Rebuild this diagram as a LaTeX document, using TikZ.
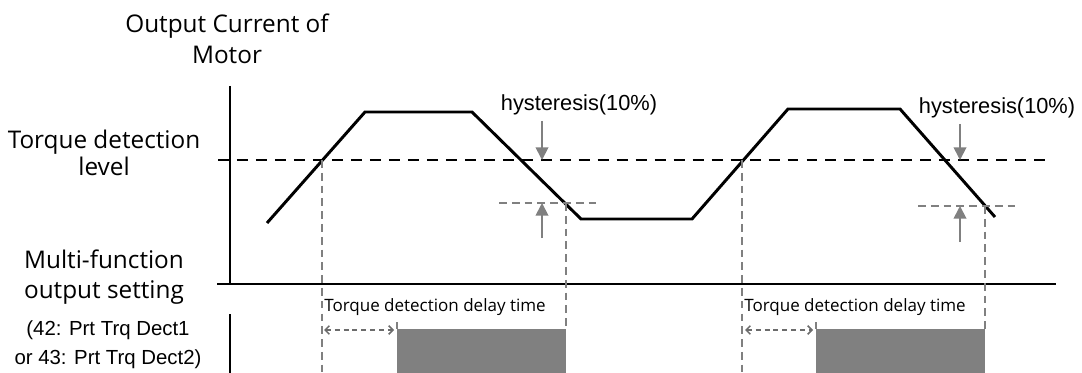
\documentclass[tikz,border=0pt]{standalone}
\usepackage{fontspec}
\setmainfont{Open Sans}
\newfontfamily\arialfont{Liberation Sans}
\usepackage{tikz}
\usetikzlibrary{arrows.meta, positioning, calc}

\begin{document}
\begin{tikzpicture}[
  x=0.025cm, y=-0.025cm,
  lbl/.style={align=center, inner sep=0pt, font=\fontsize{17.3}{21}\selectfont},
  note/.style={align=center, inner sep=0pt, font=\arialfont\fontsize{14.5}{20.6}\selectfont},
  small/.style={inner sep=0pt, font=\fontsize{12.1}{14}\selectfont},
  axis/.style={line width=1pt},
  curve/.style={line width=2.1pt, line join=miter},
  level/.style={line width=1pt, dash pattern=on 7.8pt off 5.7pt},
  guide/.style={draw=gray, line width=1.3pt, dash pattern=on 5.5pt off 3.6pt},
  hyst/.style={draw=gray, line width=1.3pt, -{Triangle[width=9pt, length=9pt]}},
  delay/.style={draw=gray!85!black, line width=1.1pt, dash pattern=on 3.5pt off 2.8pt,
    {Straight Barb[width=6pt, length=3pt]}-{Straight Barb[width=6pt, length=3pt]}},
  pulse/.style={fill=gray, draw=none}
]
\useasboundingbox (0,0) rectangle (1082,373);

% axes
\coordinate (ytop) at (230,86);
\coordinate (yend) at (230,284);
\coordinate (xbeg) at (217,284);
\coordinate (xend) at (1056,284);
\coordinate (ytop2) at (230,314);
\coordinate (yend2) at (230,373);
\draw[axis] (ytop) -- (yend);
\draw[axis] (xbeg) -- (xend);
\draw[axis] (ytop2) -- (yend2);

% torque detection level
\coordinate (lvl0) at (218,160);
\coordinate (lvl1) at (1050,160);
\draw[level] (lvl0) -- (lvl1);

% labels
\node[lbl, font=\fontsize{17.3}{22}\selectfont] (title) at (227,39) {Output Current of\\Motor};
\node[lbl, font=\fontsize{17.3}{19.5}\selectfont] (tdl) at (104,153) {Torque detection\\level};
\node[lbl] (mfo) at (104,277) {Multi-function\\output setting};
\node[note] (par) at (108,345) {(42: Prt Trq Dect1\\or 43: Prt Trq Dect2)};

% output current
\coordinate (c0) at (267,223);
\coordinate (c1) at (365,112);
\coordinate (c2) at (472,112);
\coordinate (c3) at (581,219);
\coordinate (c4) at (692,219);
\coordinate (c5) at (788,109);
\coordinate (c6) at (900,109);
\coordinate (c7) at (995,217);
\draw[curve] (c0) -- (c1) -- (c2) -- (c3) -- (c4) -- (c5) -- (c6) -- (c7);

% first detection
\coordinate (on1) at (322,160);
\coordinate (off1) at (566,203);
\draw[guide] (on1) -- (322,373);
\draw[guide] (off1) -- (566,329);
\draw[guide] (499,203) -- (598,203);
\draw[hyst] (542,121) -- (542,160);
\draw[hyst] (542,238) -- (542,203);
\node[note, font=\arialfont\fontsize{15.5}{17}\selectfont] (hys1) at (579,105) {hysteresis(10\%)};
\node[small, anchor=west] (dt1) at (324,307) {Torque detection delay time};
\coordinate (p1) at (397,329);
\draw[guide] (397,322) -- (p1);
\draw[pulse] (p1) rectangle (566,373);
\draw[delay] (324,330) -- (394,330);

% second detection
\coordinate (on2) at (742,160);
\coordinate (off2) at (985,206);
\draw[guide] (on2) -- (742,373);
\draw[guide] (off2) -- (985,329);
\draw[guide] (918,206) -- (1016,206);
\draw[hyst] (960,124) -- (960,160);
\draw[hyst] (960,242) -- (960,206);
\node[note, font=\arialfont\fontsize{15.5}{17}\selectfont] (hys2) at (997,108) {hysteresis(10\%)};
\node[small, anchor=west] (dt2) at (744,307) {Torque detection delay time};
\coordinate (p2) at (816,329);
\draw[guide] (816,322) -- (p2);
\draw[pulse] (p2) rectangle (985,373);
\draw[delay] (745,330) -- (813,330);
\end{tikzpicture}
\end{document}
